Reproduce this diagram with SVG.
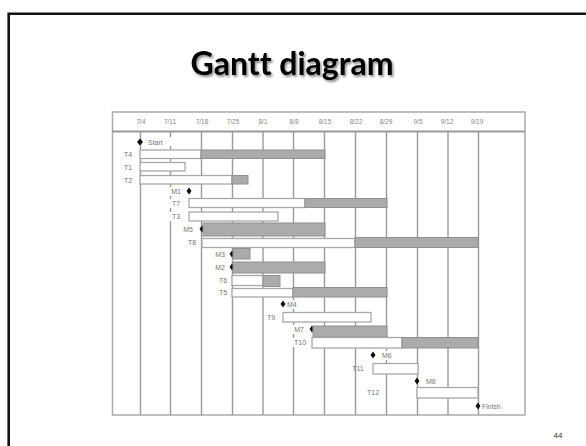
<svg xmlns="http://www.w3.org/2000/svg" width="586" height="446" viewBox="0 0 586 446">
<defs>
<filter id="shadow" x="-10%" y="-20%" width="130%" height="150%">
<feDropShadow dx="1.5" dy="2" stdDeviation="1.2" flood-color="#000" flood-opacity="0.45"/>
</filter>
<style>
.frame{fill:none;stroke:#111;stroke-width:2.6}
.title{font-family:Lato,"Liberation Sans",sans-serif;font-weight:bold;font-size:32px;fill:#000;font-variant-ligatures:none}
.box{fill:#fff;stroke:#aaa;stroke-width:1.5}
.hdr{stroke:#999;stroke-width:2}
.grid{stroke:#9a9a9a;stroke-width:1.4}
.hl{font-family:"Liberation Sans",Arial,sans-serif;font-size:6.5px;fill:#888;text-anchor:middle}
.lb{font-family:"Liberation Sans",Arial,sans-serif;font-size:7px;fill:#777;dominant-baseline:central}
.lbm{text-anchor:middle}
.bg{fill:#fff}
.wb{fill:#fff;stroke:#a8a8a8;stroke-width:1.3}
.gb{fill:#ababab;stroke:#909090;stroke-width:1}
.ms{fill:#111}
.pn{font-family:"Liberation Sans",Arial,sans-serif;font-size:8px;fill:#333}
</style>
</defs>
<rect width="586" height="446" fill="#fff"/>
<path class="frame" d="M8.7 446 V13.7 H586"/>
<text class="title" x="292" y="75" text-anchor="middle" filter="url(#shadow)">Gantt diagram</text>

<g id="chart">
<rect class="box" x="112.5" y="112" width="412.5" height="303"/>
<line class="hdr" x1="112" y1="131.5" x2="525" y2="131.5"/>
<g id="grid">
<line class="grid" x1="140.5" y1="132" x2="140.5" y2="415"/>
<line class="grid" x1="170.5" y1="132" x2="170.5" y2="415"/>
<line class="grid" x1="201.5" y1="132" x2="201.5" y2="415"/>
<line class="grid" x1="232.5" y1="132" x2="232.5" y2="415"/>
<line class="grid" x1="263" y1="132" x2="263" y2="415"/>
<line class="grid" x1="293.5" y1="132" x2="293.5" y2="415"/>
<line class="grid" x1="324.5" y1="132" x2="324.5" y2="415"/>
<line class="grid" x1="355.5" y1="132" x2="355.5" y2="415"/>
<line class="grid" x1="386.5" y1="132" x2="386.5" y2="415"/>
<line class="grid" x1="417.5" y1="132" x2="417.5" y2="415"/>
<line class="grid" x1="448" y1="132" x2="448" y2="415"/>
<line class="grid" x1="478.5" y1="132" x2="478.5" y2="415"/>
</g>
<g id="dates">
<text class="hl" x="141" y="124">7/4</text>
<text class="hl" x="170" y="124">7/11</text>
<text class="hl" x="202" y="124">7/18</text>
<text class="hl" x="233" y="124">7/25</text>
<text class="hl" x="263" y="124">8/1</text>
<text class="hl" x="294" y="124">8/8</text>
<text class="hl" x="325" y="124">8/15</text>
<text class="hl" x="356" y="124">8/22</text>
<text class="hl" x="386" y="124">8/29</text>
<text class="hl" x="418" y="124">9/5</text>
<text class="hl" x="447" y="124">9/12</text>
<text class="hl" x="477" y="124">9/19</text>
</g>
</g>

<g id="start">
<rect class="bg" x="145" y="137" width="30" height="9"/>
<polygon class="ms" points="140,138.5 143,142 140,145.5 137,142"/>
<text class="lb" x="148" y="142">Start</text>
</g>
<g id="t4">
<text class="lb lbm" x="128" y="154">T4</text>
<rect class="wb" x="140" y="150" width="61" height="8.5"/>
<rect class="gb" x="201" y="150" width="124" height="8.5"/>
</g>
<g id="t1">
<text class="lb lbm" x="128" y="167">T1</text>
<rect class="wb" x="140" y="162.5" width="45" height="8.5"/>
</g>
<g id="t2">
<text class="lb lbm" x="128" y="180">T2</text>
<rect class="wb" x="140" y="175.5" width="92" height="8.5"/>
<rect class="gb" x="232" y="175.5" width="16" height="8.5"/>
</g>
<g id="m1">
<rect class="bg" x="169" y="187" width="15" height="9"/>
<text class="lb lbm" x="176" y="191">M1</text>
<polygon class="ms" points="189,187.5 191.5,191 189,194.5 186.5,191"/>
</g>
<g id="t7">
<rect class="bg" x="169" y="199" width="15" height="9"/>
<text class="lb lbm" x="176" y="203">T7</text>
<rect class="wb" x="189" y="198.5" width="116" height="9"/>
<rect class="gb" x="305" y="198.5" width="82" height="9"/>
</g>
<g id="t3">
<rect class="bg" x="169" y="212" width="15" height="9"/>
<text class="lb lbm" x="176" y="216">T3</text>
<rect class="wb" x="189" y="212" width="89" height="9"/>
</g>
<g id="m5">
<text class="lb lbm" x="188" y="229">M5</text>
<polygon class="ms" points="202,225.5 204.5,229 202,232.5 199.5,229"/>
<rect class="gb" x="203" y="223" width="122" height="13"/>
</g>
<g id="t8">
<text class="lb lbm" x="192" y="242">T8</text>
<rect class="wb" x="202" y="238.5" width="153" height="9"/>
<rect class="gb" x="355" y="237.5" width="123" height="10"/>
</g>
<g id="m3">
<text class="lb lbm" x="220" y="254">M3</text>
<polygon class="ms" points="232,250.5 234.5,254 232,257.5 229.5,254"/>
<rect class="gb" x="233" y="248.5" width="17" height="10.5"/>
</g>
<g id="m2">
<text class="lb lbm" x="220" y="267">M2</text>
<polygon class="ms" points="232,263.5 234.5,267 232,270.5 229.5,267"/>
<rect class="gb" x="233" y="262" width="92" height="11"/>
</g>
<g id="t6">
<text class="lb lbm" x="223" y="280">T6</text>
<rect class="wb" x="232" y="275.5" width="31" height="10"/>
<rect class="gb" x="263" y="275.5" width="17" height="11"/>
</g>
<g id="t5">
<text class="lb lbm" x="223" y="292">T5</text>
<rect class="wb" x="232" y="288.5" width="61" height="8.5"/>
<rect class="gb" x="293" y="287.5" width="94" height="9.5"/>
</g>
<g id="m4">
<rect class="bg" x="286" y="300" width="14" height="9"/>
<polygon class="ms" points="283,300.5 285.5,304 283,307.5 280.5,304"/>
<text class="lb" x="287" y="304">M4</text>
</g>
<g id="t9">
<text class="lb lbm" x="271" y="317">T9</text>
<rect class="wb" x="283" y="312.5" width="88" height="9.5"/>
</g>
<g id="m7">
<rect class="bg" x="291" y="325" width="16" height="9"/>
<text class="lb lbm" x="299" y="329">M7</text>
<polygon class="ms" points="312,325.5 314.5,329 312,332.5 309.5,329"/>
<rect class="gb" x="313" y="326" width="74" height="11"/>
</g>
<g id="t10">
<rect class="bg" x="291" y="338" width="18" height="9"/>
<text class="lb lbm" x="300" y="342">T10</text>
<rect class="wb" x="312" y="337.5" width="90" height="10.5"/>
<rect class="gb" x="402" y="337.5" width="76" height="10.5"/>
</g>
<g id="m6">
<rect class="bg" x="380" y="351" width="16" height="9"/>
<polygon class="ms" points="373,351.5 375.5,355 373,358.5 370.5,355"/>
<text class="lb" x="382" y="355">M6</text>
</g>
<g id="t11">
<text class="lb lbm" x="358" y="368">T11</text>
<rect class="wb" x="373" y="363.5" width="45" height="10.5"/>
</g>
<g id="m8">
<rect class="bg" x="424" y="377" width="16" height="9"/>
<polygon class="ms" points="417,377.5 419.5,381 417,384.5 414.5,381"/>
<text class="lb" x="426" y="381">M8</text>
</g>
<g id="t12">
<text class="lb lbm" x="373" y="392">T12</text>
<rect class="wb" x="417" y="387.5" width="61" height="10.5"/>
</g>
<g id="finish">
<rect class="bg" x="480" y="402" width="42" height="9"/>
<polygon class="ms" points="478,402.5 480.5,406 478,409.5 475.5,406"/>
<text class="lb" x="482" y="406">Finish</text>
</g>

<text class="pn" x="558" y="438" text-anchor="middle">44</text>
</svg>
